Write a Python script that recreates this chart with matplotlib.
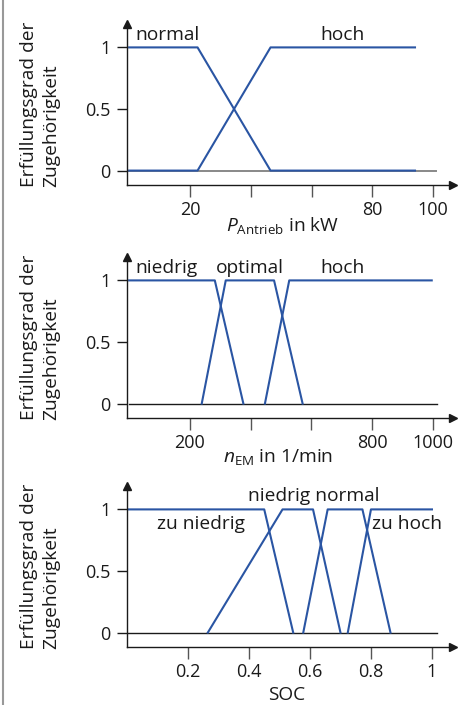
import matplotlib
matplotlib.use("Agg")
import matplotlib.pyplot as plt
from matplotlib.lines import Line2D

plt.rcParams['font.family'] = ['Open Sans', 'DejaVu Sans']
plt.rcParams['mathtext.fontset'] = 'custom'
plt.rcParams['mathtext.rm'] = 'Open Sans'
plt.rcParams['mathtext.it'] = 'Open Sans:italic'

# --- data -------------------------------------------------------------
# panel 1: drive power
p_normal_x = [0, 22.5, 46.5, 94]
p_normal_y = [1, 1, 0, 0]
p_hoch_x = [0, 22.5, 46.5, 94]
p_hoch_y = [0, 0, 1, 1]
p_ticks = [20, 40, 60, 80, 100]
p_ticklabels = ['20', '', '', '80', '100']

# panel 2: motor speed
n_niedrig_x = [0, 282, 376]
n_niedrig_y = [1, 1, 0]
n_optimal_x = [239, 318, 477, 571]
n_optimal_y = [0, 1, 1, 0]
n_hoch_x = [447, 527, 996]
n_hoch_y = [0, 1, 1]
n_ticks = [200, 400, 600, 800, 1000]
n_ticklabels = ['200', '', '', '800', '1000']

# panel 3: state of charge
s_zuniedrig_x = [0, 0.45, 0.545]
s_zuniedrig_y = [1, 1, 0]
s_niedrig_x = [0.265, 0.51, 0.61, 0.70]
s_niedrig_y = [0, 1, 1, 0]
s_normal_x = [0.578, 0.658, 0.772, 0.864]
s_normal_y = [0, 1, 1, 0]
s_zuhoch_x = [0.724, 0.80, 1.0]
s_zuhoch_y = [0, 1, 1]
s_ticks = [0.2, 0.4, 0.6, 0.8, 1.0]
s_ticklabels = ['0.2', '0.4', '0.6', '0.8', '1']

y_ticks = [0, 0.5, 1]
y_ticklabels = ['0', '0.5', '1']
ylabel = 'Erfüllungsgrad der\nZugehörigkeit'

BLUE = '#2a55a3'
DARK = '#1a1a1a'
W, H = 469, 705
FS = 13
LFS = 13.8  # labels inside the plots and the y label

fig = plt.figure(figsize=(W / 100, H / 100), dpi=100)


def make_axes(top_px, bottom_px, xlim):
    ax = fig.add_axes([127 / W, 1 - bottom_px / H, 326 / W, (bottom_px - top_px) / H])
    ax.set_xlim(*xlim)
    ax.set_ylim(-0.117, 1.19)
    for s in ['top', 'right']:
        ax.spines[s].set_visible(False)
    for s in ['left', 'bottom']:
        ax.spines[s].set_color(DARK)
        ax.spines[s].set_linewidth(1.0)
    # arrow heads
    ax.plot(1, 0, '>', color=DARK, markersize=5.5, transform=ax.transAxes, clip_on=False)
    ax.plot(0, 1, '^', color=DARK, markersize=5.5, transform=ax.transAxes, clip_on=False)
    ax.set_yticks(y_ticks)
    ax.set_yticklabels(y_ticklabels)
    ax.tick_params(axis='y', direction='out', length=7, width=1.0, color=DARK,
                   labelsize=FS, pad=5, labelcolor=DARK)
    ax.tick_params(axis='x', direction='out', length=8.5, width=1.0, color='#555555',
                   labelsize=FS, pad=3, labelcolor=DARK)
    fig.text(40 / W, 1 - (bottom_px + 2) / H, ylabel, rotation=90, ha='center',
             va='bottom', multialignment='left', fontsize=LFS, color=DARK,
             linespacing=1.3)
    return ax


# panel 1
ax1 = make_axes(24, 185, (-0.7, 106.5))
ax1.plot([0, 101], [0, 0], color='#888888', lw=1.4, zorder=1)
ax1.plot(p_normal_x, p_normal_y, color=BLUE, lw=1.5, zorder=2)
ax1.plot(p_hoch_x, p_hoch_y, color=BLUE, lw=1.5, zorder=2)
ax1.set_xticks(p_ticks)
ax1.set_xticklabels(p_ticklabels)
ax1.text(2, 1.1, 'normal', fontsize=LFS, color=DARK, va='center', ha='left')
ax1.text(62.8, 1.1, 'hoch', fontsize=LFS, color=DARK, va='center', ha='left')
fig.text(283 / W, 1 - 225 / H, r'$P_{\mathrm{Antrieb}}$ in kW', ha='center',
         va='center', fontsize=LFS, color=DARK)

# panel 2
ax2 = make_axes(257, 418, (-7, 1066))
ax2.plot([0, 1013], [0, 0], color=DARK, lw=1.0, zorder=1)
ax2.plot(n_niedrig_x, n_niedrig_y, color=BLUE, lw=1.5, zorder=2)
ax2.plot(n_optimal_x, n_optimal_y, color=BLUE, lw=1.5, zorder=2)
ax2.plot(n_hoch_x, n_hoch_y, color=BLUE, lw=1.5, zorder=2)
ax2.set_xticks(n_ticks)
ax2.set_xticklabels(n_ticklabels)
ax2.text(19, 1.1, 'niedrig', fontsize=LFS, color=DARK, va='center', ha='left')
ax2.text(286, 1.1, 'optimal', fontsize=LFS, color=DARK, va='center', ha='left')
ax2.text(628, 1.1, 'hoch', fontsize=LFS, color=DARK, va='center', ha='left')
fig.text(278 / W, 1 - 457 / H, r'$n_{\mathrm{EM}}$ in 1/min', ha='center',
         va='center', fontsize=LFS, color=DARK)

# panel 3
ax3 = make_axes(486, 647, (0, 1.069))
ax3.plot([0, 1.016], [0, 0], color=DARK, lw=1.0, zorder=1)
ax3.plot(s_zuniedrig_x, s_zuniedrig_y, color=BLUE, lw=1.5, zorder=2)
ax3.plot(s_niedrig_x, s_niedrig_y, color=BLUE, lw=1.5, zorder=2)
ax3.plot(s_normal_x, s_normal_y, color=BLUE, lw=1.5, zorder=2)
ax3.plot(s_zuhoch_x, s_zuhoch_y, color=BLUE, lw=1.5, zorder=2)
ax3.set_xticks(s_ticks)
ax3.set_xticklabels(s_ticklabels)
ax3.text(0.397, 1.105, 'niedrig normal', fontsize=LFS, color=DARK, va='center', ha='left')
ax3.text(0.098, 0.88, 'zu niedrig', fontsize=LFS, color=DARK, va='center', ha='left')
ax3.text(0.803, 0.88, 'zu hoch', fontsize=LFS, color=DARK, va='center', ha='left')
fig.text(287 / W, 1 - 695 / H, 'SOC', ha='center', va='center', fontsize=LFS, color=DARK)

# page border on the left
fig.add_artist(Line2D([3 / W, 3 / W], [0, 1], color='#999999', lw=1.5))

fig.savefig('out.png', dpi=100)
